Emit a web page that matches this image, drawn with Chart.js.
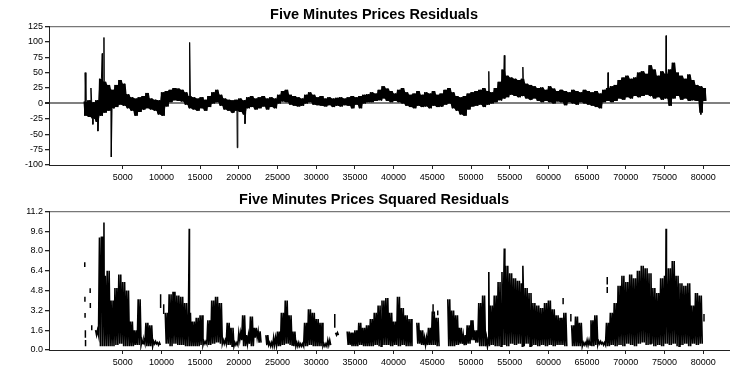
<!DOCTYPE html>
<html>
<head>
<meta charset="utf-8">
<script src="https://cdn.jsdelivr.net/npm/chart.js@4/dist/chart.umd.min.js"></script>
<style>
  html, body { margin: 0; padding: 0; background: #fff; }
  canvas { display: block; }
</style>
</head>
<body>
<canvas id="residuals" width="730" height="186"></canvas>
<canvas id="squared" width="730" height="185"></canvas>
<script>
var binWidth = 500;

var resHigh = [3, 5, 2, 5, 40, 35, 30, 22, 30, 38,
    32, 15, 10, 8, 10, 12, 17, 8, 6, 5,
    18, 20, 22, 25, 24, 22, 18, 12, 10, 8,
    10, 6, 12, 18, 22, 14, 8, 6, 5, 6,
    8, 5, 10, 12, 8, 10, 12, 8, 10, 8,
    14, 20, 22, 14, 12, 10, 8, 14, 18, 14,
    10, 12, 8, 10, 8, 9, 10, 8, 10, 12,
    10, 12, 14, 15, 18, 16, 22, 28, 24, 20,
    16, 22, 25, 18, 14, 16, 20, 14, 18, 16,
    20, 14, 16, 22, 25, 18, 12, 10, 12, 16,
    18, 20, 22, 25, 20, 18, 25, 35, 55, 45,
    42, 40, 38, 40, 32, 30, 28, 25, 26, 22,
    28, 24, 20, 22, 20, 18, 22, 20, 18, 22,
    20, 18, 20, 16, 22, 25, 28, 30, 38, 42,
    45, 40, 42, 50, 52, 48, 62, 55, 45, 52,
    48, 55, 66, 50, 45, 40, 47, 38, 30, 28, 25];
var resLow = [-20, -22, -25, -30, -20, -15, -12, -8, -6, -2,
    -4, -8, -12, -20, -14, -10, -8, -10, -12, -18,
    -20, -5, 2, 5, 4, 3, -2, -8, -10, -12,
    -8, -12, -6, 0, 2, -4, -10, -12, -15, -12,
    -14, -18, -8, -6, -10, -8, -5, -10, -6, -8,
    0, 3, 2, -2, -4, -5, -4, 0, 2, -2,
    -3, -4, -5, -3, -6, -4, -5, -3, -4, -8,
    -2, -8, 0, 2, 2, 4, 5, 8, 4, 2,
    4, 2, 0, -4, -6, -8, -4, -6, -5, -8,
    -4, -6, -5, -2, 0, -8, -12, -18, -20, -10,
    -5, -4, -2, -6, -2, 0, 2, 5, 8, 10,
    14, 12, 10, 12, 8, 6, 8, 4, 2, 4,
    2, 0, 3, 2, -3, 2, 0, -2, 2, 0,
    -2, -4, -6, -8, 2, 4, 2, 4, 8, 6,
    10, 8, 12, 10, 12, 14, 12, 8, 10, 6,
    8, -4, 8, 12, 6, 8, 4, 5, 4, -15, 4];
var resSpikeX = [150, 900, 1150, 1800, 2370, 2580, 3530, 13650, 19800, 20800, 52300, 54300, 56700, 67700, 75200, 79700];
var resSpikeY = [50, 25, -34, -45, 81, 107, -87, 99, -72, -33, 52, 78, 59, 50, 110, -18];

var sqHigh = [null, null, null, 1.6, 9.1, 6.0, 6.4, 4.0, 5.0, 6.1,
    5.5, 4.8, 2.3, 1.6, 4.1, 0.8, 2.2, 2.0, 0.7, 0.6,
    null, 3.0, 4.5, 4.7, 4.4, 4.3, 3.8, 3.0, 2.3, 2.6,
    2.8, 0.7, 2.4, 4.0, 4.3, 3.8, 0.8, 2.2, 1.8, 0.6,
    1.4, 2.8, 1.2, 2.7, 1.8, 1.5, null, 1.2, 0.6, 1.0,
    1.5, 3.0, 4.0, 2.8, 1.5, 0.6, 0.5, 2.2, 3.3, 3.0,
    2.5, 2.2, 0.5, 0.8, null, 1.4, null, null, 1.5, 1.4,
    1.6, 2.2, 1.8, 2.0, 2.5, 3.0, 3.6, 4.0, 4.2, 3.0,
    2.3, 4.3, 3.4, 2.8, 2.5, null, 2.2, 1.6, 1.0, 1.8,
    3.1, 2.6, null, null, 4.1, 3.2, 2.8, 1.8, 1.2, 2.0,
    2.4, 1.6, 3.8, 4.4, 1.0, 3.6, 4.4, 5.5, 6.3, 6.8,
    6.2, 5.8, 5.6, 5.4, 5.0, 4.6, 3.8, 3.6, 3.4, 3.8,
    4.0, 3.3, 2.8, 2.6, 3.0, null, 2.0, 2.7, 2.2, 0.6,
    0.8, 2.4, 2.8, 0.7, 0.6, 2.2, 3.0, 3.8, 5.2, 6.0,
    5.5, 6.1, 5.8, 6.4, 6.8, 6.6, 6.2, 5.0, 4.6, 5.8,
    6.0, 6.6, 7.2, 6.0, 5.4, 5.2, 5.4, 3.6, 4.6, 4.4, null];
var sqLow = [null, null, null, 1.2, 0.3, 0.3, 0.3, 0.3, 0.4, 0.5,
    0.3, 0.3, 0.3, 0.4, 0.4, 0.5, 0.3, 0.3, 0.5, 0.4,
    null, 0.5, 0.3, 0.5, 0.4, 0.4, 0.3, 0.3, 0.3, 0.3,
    0.4, 0.5, 0.4, 0.5, 0.6, 0.5, 0.5, 0.4, 0.3, 0.4,
    0.8, 0.3, 0.5, 0.3, 1.0, 0.6, null, 0.4, 0.3, 0.4,
    0.3, 0.4, 0.5, 0.4, 0.3, 0.3, 0.3, 0.3, 0.4, 0.3,
    0.3, 0.3, 0.3, 0.4, null, 1.2, null, null, 0.4, 0.3,
    0.3, 0.4, 0.3, 0.3, 0.3, 0.4, 0.3, 0.4, 0.4, 0.3,
    0.4, 0.3, 0.4, 0.3, 0.3, null, 0.5, 0.4, 0.4, 0.4,
    0.4, 0.3, null, null, 0.3, 0.3, 0.4, 0.5, 0.4, 0.5,
    0.8, 0.6, 0.3, 0.3, 0.3, 0.4, 0.3, 0.3, 0.4, 0.3,
    0.5, 0.4, 0.5, 0.3, 0.5, 0.3, 0.4, 0.3, 0.4, 0.3,
    0.4, 0.3, 0.4, 0.4, 0.3, null, 0.3, 0.3, 0.3, 0.4,
    0.4, 0.3, 0.4, 0.5, 0.4, 0.3, 0.4, 0.3, 0.4, 0.3,
    0.5, 0.4, 0.3, 0.5, 0.6, 0.4, 0.5, 0.3, 0.4, 0.3,
    0.5, 0.4, 0.5, 0.3, 0.4, 0.5, 0.3, 0.5, 0.4, 0.5, null];
var sqSpikeX = [2370, 2580, 13600, 52300, 54300, 56700, 75200];
var sqSpikeY = [9.1, 10.3, 9.8, 6.3, 8.2, 6.8, 9.8];

// short isolated pieces of the squared series
var dashX = [100, 120, 140, 180, 200, 800, 820, 1000, 9900, 10300, 32400, 45100, 45700, 61900, 62900, 67600, 67600, 80100];
var dashLow = [6.7, 3.9, 2.6, 1.0, 0.3, 4.6, 3.4, 1.6, 3.4, 2.9, 1.8, 2.9, 2.8, 3.7, 2.3, 5.3, 4.6, 2.3];
var dashHigh = [7.1, 4.3, 3.0, 1.6, 0.8, 5.0, 3.8, 2.0, 4.5, 3.7, 2.9, 3.7, 3.2, 4.2, 2.9, 5.9, 5.1, 2.9];

var xTickValues = [5000, 10000, 15000, 20000, 25000, 30000, 35000, 40000, 45000, 50000, 55000, 60000, 65000, 70000, 75000, 80000];
var resTickValues = [-100, -75, -50, -25, 0, 25, 50, 75, 100, 125];
var sqTickValues = [0, 1.6, 3.2, 4.8, 6.4, 8.0, 9.6, 11.2];

var tickFont = { family: "'Liberation Sans', Arial, sans-serif", size: 9 };
var titleFont = { family: "'Liberation Sans', Arial, sans-serif", size: 14.5, weight: 'bold' };

// zigzag between the upper and lower edge of every bin, plus the single spikes
function bandPoints(high, low, offsets, spikeX, spikeY) {
    var pts = [];
    for (var i = 0; i < high.length; i++) {
        if (high[i] === null) {
            pts.push({ x: i * binWidth, y: null });
            continue;
        }
        for (var k = 0; k < offsets.length; k++) {
            pts.push({ x: i * binWidth + offsets[k], y: k % 2 === 0 ? high[i] : low[i] });
        }
    }
    for (var j = 0; j < spikeX.length; j++) {
        pts.push({ x: spikeX[j], y: spikeY[j] });
    }
    pts.sort(function (a, b) { return a.x - b.x; });
    return pts;
}

// one edge of the band, used to fill the dense part solid
function edgePoints(values) {
    var pts = [];
    for (var i = 0; i < values.length; i++) {
        pts.push({ x: i * binWidth, y: values[i] });
        pts.push({ x: i * binWidth + 375, y: values[i] });
    }
    return pts;
}

function dashPoints() {
    var pts = [];
    for (var i = 0; i < dashX.length; i++) {
        pts.push({ x: dashX[i], y: dashLow[i] });
        pts.push({ x: dashX[i], y: dashHigh[i] });
        pts.push({ x: dashX[i], y: null });
    }
    return pts;
}

function makeChart(id, title, titlePad, datasets, yTicks, fmt, zeroLine) {
    var ctx = document.getElementById(id).getContext('2d');
    var yMin = yTicks[0], yMax = yTicks[yTicks.length - 1];
    return new Chart(ctx, {
        type: 'line',
        data: { datasets: datasets },
        options: {
            responsive: false,
            animation: false,
            events: [],
            layout: { padding: { left: 18, right: 0, top: 0, bottom: 0 } },
            plugins: {
                legend: { display: false },
                tooltip: { enabled: false },
                title: { display: true, text: title, color: '#000', font: titleFont, padding: titlePad }
            },
            elements: { point: { radius: 0 }, line: { tension: 0 } },
            scales: {
                x: {
                    type: 'linear', min: -4520, max: 83460,
                    afterBuildTicks: function (s) { s.ticks = xTickValues.map(function (v) { return { value: v }; }); },
                    afterFit: function (s) { s.height = 21; },
                    border: { color: '#222', width: 1 },
                    grid: { drawOnChartArea: false, tickLength: 4, color: '#222' },
                    ticks: { font: tickFont, color: '#000', padding: 3, maxRotation: 0, autoSkip: false,
                        callback: function (v) { return String(v); } }
                },
                y: {
                    min: yMin, max: yMax,
                    afterBuildTicks: function (s) { s.ticks = yTicks.map(function (v) { return { value: v }; }); },
                    afterFit: function (s) { s.width = 31; },
                    border: { color: '#222', width: 1 },
                    grid: {
                        tickLength: 4, tickColor: '#222',
                        color: function (c) {
                            if (c.tick.value === yMax) return '#777';
                            if (zeroLine && c.tick.value === 0) return '#808080';
                            return 'rgba(0,0,0,0)';
                        },
                        lineWidth: function (c) { return (zeroLine && c.tick.value === 0) ? 2 : 1.3; }
                    },
                    ticks: { font: tickFont, color: '#000', padding: 2, autoSkip: false, callback: fmt }
                }
            }
        }
    });
}

makeChart('residuals', 'Five Minutes Prices Residuals', { top: 6, bottom: 3 }, [{
    data: bandPoints(resHigh, resLow, [0, 125, 250, 375], resSpikeX, resSpikeY),
    borderColor: '#000', borderWidth: 1, spanGaps: false
}, {
    data: edgePoints(resHigh),
    borderWidth: 0, borderColor: 'rgba(0,0,0,0)', fill: false
}, {
    data: edgePoints(resLow),
    borderWidth: 0, borderColor: 'rgba(0,0,0,0)', backgroundColor: '#000', fill: '-1'
}], resTickValues, function (v) { return String(v); }, true);

makeChart('squared', 'Five Minutes Prices Squared Residuals', { top: 5, bottom: 3 }, [{
    data: bandPoints(sqHigh, sqLow, [0, 125, 250, 375], sqSpikeX, sqSpikeY),
    borderColor: '#000', borderWidth: 1.6, spanGaps: false
}, {
    data: dashPoints(),
    borderColor: '#000', borderWidth: 1.5, spanGaps: false
}], sqTickValues, function (v) { return Number(v).toFixed(1); }, false);
</script>
</body>
</html>
